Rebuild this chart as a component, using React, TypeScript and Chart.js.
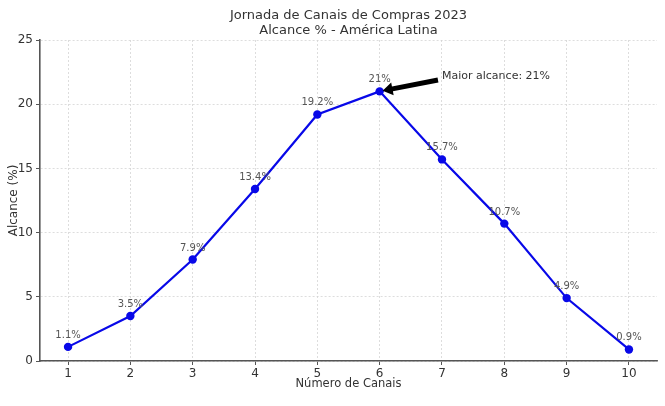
import React, { useEffect, useRef } from 'react';
import { Chart, registerables } from 'chart.js';

Chart.register(...registerables);

const canais = [1, 2, 3, 4, 5, 6, 7, 8, 9, 10];
const alcance = [1.1, 3.5, 7.9, 13.4, 19.2, 21, 15.7, 10.7, 4.9, 0.9];
const rotulos = alcance.map((v) => `${v}%`);
const tituloLinhas = ['Jornada de Canais de Compras 2023', 'Alcance % - América Latina'];
const tituloX = 'Número de Canais';
const tituloY = 'Alcance (%)';
const anotacaoTexto = 'Maior alcance: 21%';
const anotacaoPonto = { x: 6, y: 21 };
const anotacaoTextoPos = { x: 7, y: 22 };

const FONT = "'DejaVu Sans', sans-serif";

const overlayPlugin = {
  id: 'overlay',
  afterDatasetsDraw(chart: any) {
    const { ctx, chartArea, scales } = chart;
    const xs = scales.x;
    const ys = scales.y;
    ctx.save();
    // title
    ctx.fillStyle = '#333';
    ctx.font = `13px ${FONT}`;
    ctx.textAlign = 'center';
    ctx.textBaseline = 'alphabetic';
    const cx = (chartArea.left + chartArea.right) / 2;
    ctx.fillText(tituloLinhas[0], cx, 19);
    ctx.fillText(tituloLinhas[1], cx, 34);

    // data labels
    const meta = chart.getDatasetMeta(0);
    ctx.font = `10px ${FONT}`;
    ctx.fillStyle = '#555';
    meta.data.forEach((pt: any, i: number) => {
      ctx.fillText(rotulos[i], pt.x, pt.y - 9);
    });

    // annotation
    const px = xs.getPixelForValue(anotacaoPonto.x);
    const py = ys.getPixelForValue(anotacaoPonto.y);
    const tx = xs.getPixelForValue(anotacaoTextoPos.x);
    const ty = ys.getPixelForValue(anotacaoTextoPos.y);
    ctx.font = `11px ${FONT}`;
    ctx.fillStyle = '#333';
    ctx.textAlign = 'left';
    ctx.fillText(anotacaoTexto, tx, ty);

    const sx = tx - 4;
    const sy = ty + 1.5;
    const dx = px - sx;
    const dy = py - sy;
    const len = Math.hypot(dx, dy);
    const ux = dx / len;
    const uy = dy / len;
    const ex = px - ux * 3;
    const ey = py - uy * 3;
    const headLen = 10;
    const headW = 6.5;
    const shaftW = 2.5;
    const bx = ex - ux * headLen;
    const by = ey - uy * headLen;
    const nx = -uy;
    const ny = ux;
    ctx.fillStyle = '#000';
    ctx.beginPath();
    ctx.moveTo(sx + nx * shaftW, sy + ny * shaftW);
    ctx.lineTo(bx + nx * shaftW, by + ny * shaftW);
    ctx.lineTo(bx + nx * headW, by + ny * headW);
    ctx.lineTo(ex, ey);
    ctx.lineTo(bx - nx * headW, by - ny * headW);
    ctx.lineTo(bx - nx * shaftW, by - ny * shaftW);
    ctx.lineTo(sx - nx * shaftW, sy - ny * shaftW);
    ctx.closePath();
    ctx.fill();
    ctx.restore();
  },
};

export default function App() {
  const ref = useRef<HTMLCanvasElement | null>(null);
  useEffect(() => {
    if (!ref.current) return;
    const chart = new Chart(ref.current, {
      type: 'line',
      data: {
        datasets: [
          {
            data: canais.map((c, i) => ({ x: c, y: alcance[i] })),
            borderColor: '#0808e8',
            backgroundColor: '#0808e8',
            borderWidth: 2.2,
            pointRadius: 4.2,
            pointBackgroundColor: '#0808e8',
            pointBorderWidth: 0,
            tension: 0,
            clip: false as any,
          },
        ],
      },
      options: {
        animation: false,
        responsive: false,
        layout: { padding: { top: 40, right: 8, left: 0, bottom: 0 } },
        plugins: { legend: { display: false }, tooltip: { enabled: false }, title: { display: false } },
        scales: {
          x: {
            type: 'linear',
            min: 0.55,
            max: 10.45,
            afterFit(scale: any) {
              scale.height = 45;
            },
            ticks: {
              stepSize: 1,
              includeBounds: false,
              color: '#333',
              font: { family: FONT, size: 12 },
              padding: 2,
              maxRotation: 0,
            },
            grid: {
              color: '#d5d5d5',
              lineWidth: 0.8,
              tickColor: '#555',
              tickLength: 4,
              tickWidth: 1,
              tickBorderDash: [],
            },
            border: { display: true, color: '#555', width: 1.6, dash: [2, 2] },
            title: {
              display: true,
              text: tituloX,
              color: '#333',
              font: { family: FONT, size: 11.5 },
              padding: { top: 0, bottom: 15 },
            },
          },
          y: {
            type: 'linear',
            min: 0,
            max: 25,
            afterFit(scale: any) {
              scale.width = 40;
            },
            ticks: {
              stepSize: 5,
              color: '#333',
              font: { family: FONT, size: 12 },
              padding: 3,
            },
            grid: {
              color: '#d5d5d5',
              lineWidth: 0.8,
              tickColor: '#555',
              tickLength: 4,
              tickWidth: 1,
              tickBorderDash: [],
            },
            border: { display: true, color: '#555', width: 1.6, dash: [2, 2] },
            title: {
              display: true,
              text: tituloY,
              color: '#333',
              font: { family: FONT, size: 12 },
              padding: { top: 7, bottom: 0 },
            },
          },
        },
      },
      plugins: [overlayPlugin],
    });
    return () => chart.destroy();
  }, []);
  return (
    <div style={{ position: 'fixed', left: 0, top: 0, width: 665, height: 406, background: '#fff' }}>
      <canvas ref={ref} width={665} height={406} style={{ width: 665, height: 406 }} />
    </div>
  );
}
